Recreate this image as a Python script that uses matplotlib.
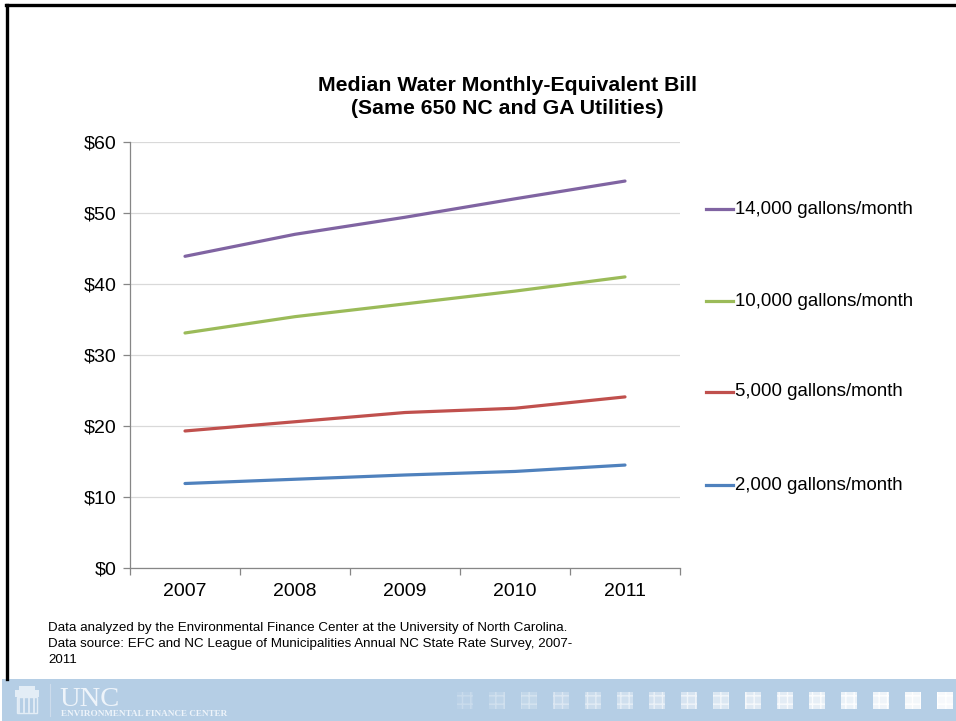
import matplotlib
matplotlib.use("Agg")
import matplotlib.pyplot as plt
from matplotlib.lines import Line2D
from matplotlib.patches import Rectangle
from matplotlib.ticker import FixedLocator, FuncFormatter

plt.rcParams['font.family'] = ['Liberation Sans', 'DejaVu Sans']

years = ["2007", "2008", "2009", "2010", "2011"]
series_labels = ["14,000 gallons/month", "10,000 gallons/month",
                 "5,000 gallons/month", "2,000 gallons/month"]
bill_14000 = [43.9, 47.0, 49.4, 52.0, 54.5]
bill_10000 = [33.1, 35.4, 37.2, 39.0, 41.0]
bill_5000 = [19.3, 20.6, 21.9, 22.5, 24.1]
bill_2000 = [11.9, 12.5, 13.1, 13.6, 14.5]
series_values = [bill_14000, bill_10000, bill_5000, bill_2000]
colors = ["#8064A2", "#9BBB59", "#C0504D", "#4F81BD"]

W, H = 956, 721
fig = plt.figure(figsize=(W / 100, H / 100), dpi=100)


def fx(px):
    return px / W


def fy(py):
    return 1 - py / H


ax = fig.add_axes([fx(130), fy(568), fx(680) - fx(130), fy(142) - fy(568)])

xpos = [i + 0.5 for i in range(len(years))]
for vals, c in zip(series_values, colors):
    ax.plot(xpos, vals, color=c, lw=2.3, solid_capstyle='round', zorder=3)

ax.set_xlim(0, len(years))
ax.set_ylim(0, 60)
ax.yaxis.set_major_locator(FixedLocator(range(0, 61, 10)))
ax.yaxis.set_major_formatter(FuncFormatter(lambda v, p: f"${int(v)}"))
ax.grid(axis='y', color='#d9d9d9', lw=0.9, zorder=0)
ax.set_axisbelow(True)

ax.xaxis.set_major_locator(FixedLocator(range(0, len(years) + 1)))
ax.xaxis.set_major_formatter(FuncFormatter(lambda v, p: ""))
ax.xaxis.set_minor_locator(FixedLocator(xpos))
ax.set_xticklabels(years, minor=True)
ax.tick_params(axis='x', which='major', length=5, width=0.9, color='#868686', direction='out')
ax.tick_params(axis='x', which='minor', length=0, pad=11, labelsize=14)
ax.tick_params(axis='y', length=5, width=0.9, color='#868686', direction='out', pad=5, labelsize=14)

for s in ['top', 'right']:
    ax.spines[s].set_visible(False)
for s in ['left', 'bottom']:
    ax.spines[s].set_color('#868686')
    ax.spines[s].set_linewidth(0.9)

# Title
fig.text(fx(507), fy(97), "Median Water Monthly-Equivalent Bill\n(Same 650 NC and GA Utilities)",
         ha='center', va='center', fontsize=15.3, fontweight='bold', linespacing=1.22)

# Legend entries placed beside the plot
legend_y = [209, 301, 392, 485]
for lab, c, ly in zip(series_labels, colors, legend_y):
    fig.add_artist(Line2D([fx(706), fx(733)], [fy(ly), fy(ly)], color=c, lw=2.3,
                          transform=fig.transFigure))
    fig.text(fx(735), fy(ly), lab, ha='left', va='center', fontsize=13.4)

# Source note
fig.text(fx(48), fy(622),
         "Data analyzed by the Environmental Finance Center at the University of North Carolina.\n"
         "Data source: EFC and NC League of Municipalities Annual NC State Rate Survey, 2007-\n"
         "2011", ha='left', va='top', fontsize=9.6, linespacing=1.45)

# Slide frame
fig.add_artist(Line2D([fx(7), fx(7)], [fy(679), fy(5)], color='black', lw=2.4,
                      transform=fig.transFigure))
fig.add_artist(Line2D([fx(6), fx(956)], [fy(5), fy(5)], color='black', lw=2.4,
                      transform=fig.transFigure))

# Footer banner
banner_color = "#b5cee5"
fig.add_artist(Rectangle((fx(2), 0), 1 - fx(2), fy(679), transform=fig.transFigure,
                         facecolor=banner_color, edgecolor='none'))

# Logo: Old Well style icon
logo_c = "#e3edf6"
fig.add_artist(Rectangle((fx(17), fy(713)), fx(20), fy(697) - fy(713),
                         transform=fig.transFigure, facecolor='none', edgecolor=logo_c, lw=1.0))
for cx in [19, 24, 29, 34]:
    fig.add_artist(Line2D([fx(cx), fx(cx)], [fy(712), fy(697)], color=logo_c, lw=1.3,
                          transform=fig.transFigure))
fig.add_artist(Rectangle((fx(15), fy(697)), fx(24), fy(690) - fy(697), transform=fig.transFigure,
                         facecolor=logo_c, edgecolor='none'))
fig.add_artist(Rectangle((fx(19), fy(690)), fx(16), fy(686) - fy(690), transform=fig.transFigure,
                         facecolor=logo_c, edgecolor='none'))
fig.add_artist(Line2D([fx(50), fx(50)], [fy(716), fy(684)], color="#cddcec", lw=0.8,
                      transform=fig.transFigure))
fig.text(fx(59), fy(706), "UNC", ha='left', va='baseline', fontsize=20.5,
         family=['Liberation Serif', 'DejaVu Serif'], color='#eef4fa')
fig.text(fx(61), fy(716), "ENVIRONMENTAL FINANCE CENTER", ha='left', va='baseline',
         fontsize=6.6, fontweight='bold', family=['Liberation Serif', 'DejaVu Serif'],
         color='#eef4fa')

# Decorative tiles
n_tiles = 16
for k in range(n_tiles):
    x0 = 457 + 32 * k
    a = 0.08 + 0.82 * k / (n_tiles - 1)
    fig.add_artist(Rectangle((fx(x0), fy(709)), fx(16), fy(692) - fy(709),
                             transform=fig.transFigure, facecolor=(1, 1, 1, a),
                             edgecolor=(1, 1, 1, min(1, a + 0.15)), lw=0, hatch='++'))

fig.savefig("out.png", dpi=100)
